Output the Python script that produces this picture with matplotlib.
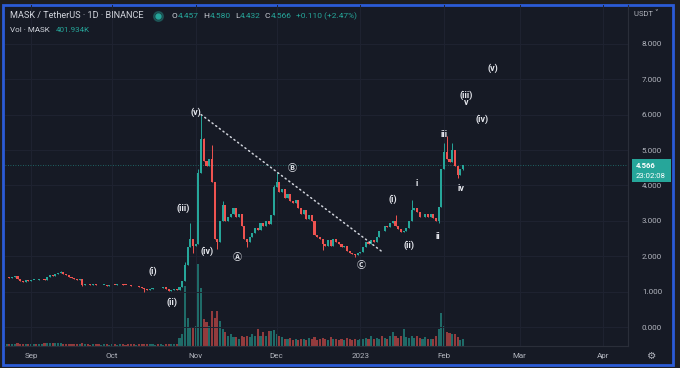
import matplotlib
matplotlib.use("Agg")
import matplotlib.pyplot as plt
from matplotlib.patches import Rectangle
from matplotlib.lines import Line2D

plt.rcParams['font.family'] = ['Roboto', 'DejaVu Sans', 'Noto Sans CJK JP']

# days counted from 1 Sep 2022, first candle is 23 Aug
first_day = -9
first_open = 1.40
closes = [
    1.41, 1.39, 1.42, 1.44, 1.36, 1.30, 1.28, 1.32, 1.30,
    1.33, 1.34, 1.32, 1.35, 1.36, 1.33, 1.40, 1.46, 1.44, 1.50, 1.52, 1.55,
    1.50, 1.46, 1.42, 1.38, 1.36, 1.34, 1.36, 1.20, 1.22,
    1.21, 1.19, 1.22, 1.20, 1.18, 1.19, 1.20, 1.17, 1.18, 1.20,
    1.19, 1.21, 1.22, 1.20, 1.19, 1.18, 1.17, 1.15, 1.16, 1.13,
    1.10, 1.06, 1.04, 1.08, 1.10, 1.11, 1.09, 1.10, 1.12, 1.08,
    1.03, 1.04, 1.06, 1.05, 1.12, 1.30,
    1.75, 2.25, 2.50, 2.30, 2.35, 4.35, 5.30, 4.70, 4.55, 4.75, 4.10, 2.50, 2.40,
    3.00, 3.45, 3.00, 3.10, 3.20, 3.35, 3.10, 3.20, 2.85, 2.50,
    2.40, 2.55, 2.65, 2.80, 2.75, 2.95, 2.85, 3.00, 2.90, 3.15,
    3.95, 4.10, 3.80, 3.90, 3.65, 3.75, 3.55, 3.50, 3.60, 3.35, 3.20, 3.30,
    3.05, 3.15, 3.00, 2.60, 2.55, 2.50, 2.35, 2.30, 2.45, 2.30, 2.50, 2.40,
    2.35, 2.25, 2.30, 2.15, 2.10, 2.05, 2.02, 2.08, 2.12, 2.25,
    2.40, 2.35, 2.45, 2.40, 2.55, 2.72, 2.70, 2.85, 2.82, 2.95,
    3.00, 2.85, 2.78, 2.68, 2.70, 2.80, 3.00, 3.30, 3.35, 3.25,
    3.10, 3.12, 3.18, 3.12, 3.18, 3.08, 3.00,
    3.40, 4.45, 4.95, 4.75, 4.65, 5.00, 4.55, 4.30, 4.457, 4.566,
]
# visible wicks (day: price)
highs = {11: 1.58, 57: 1.85, 59: 2.95, 62: 4.45, 63: 6.00, 64: 5.35, 67: 5.15,
         71: 3.55, 90: 4.00, 91: 4.38, 135: 3.16, 141: 3.59, 153: 5.20,
         154: 5.40, 156: 5.20, 160: 4.58}
lows = {19: 1.15, 42: 1.00, 60: 2.10, 69: 2.20, 80: 2.25, 108: 2.18,
        120: 1.98, 151: 2.93, 158: 4.20, 160: 4.432}
# volume in millions MASK
volumes = [
    0.12, 0.10, 0.11, 0.13, 0.15, 0.12, 0.10, 0.11, 0.09,
    0.10, 0.12, 0.09, 0.11, 0.14, 0.16, 0.18, 0.20, 0.17, 0.15, 0.18, 0.16,
    0.14, 0.12, 0.13, 0.11, 0.10, 0.12, 0.09, 0.15, 0.11,
    0.09, 0.08, 0.10, 0.09, 0.11, 0.08, 0.10, 0.09, 0.08, 0.10,
    0.09, 0.08, 0.11, 0.09, 0.08, 0.10, 0.09, 0.11, 0.08, 0.10,
    0.12, 0.11, 0.09, 0.10, 0.09, 0.08, 0.09, 0.10, 0.08, 0.09,
    0.11, 0.10, 0.09, 0.12, 0.45, 0.70,
    3.45, 1.60, 1.05, 1.10, 1.15, 4.70, 3.35, 1.55, 1.35, 1.15, 2.00, 1.60, 2.00,
    1.45, 0.97, 0.78, 0.60, 0.68, 0.53, 0.50, 0.40, 0.60, 0.53,
    0.60, 0.50, 0.68, 0.57, 0.97, 0.57, 0.78, 0.57, 0.85, 0.85,
    0.90, 0.68, 0.57, 0.50, 0.42, 0.38, 0.45, 0.35, 0.40, 0.33, 0.38, 0.42,
    0.36, 0.45, 0.40, 0.50, 0.35, 0.38, 0.45, 0.40, 0.35, 0.50, 0.42, 0.38,
    0.35, 0.40, 0.33, 0.45, 0.38, 0.36, 0.42, 0.35, 0.40, 0.38,
    0.45, 0.40, 0.55, 0.42, 0.48, 0.38, 0.57, 0.45, 0.40, 0.55,
    0.80, 0.55, 0.45, 0.60, 0.97, 0.50, 0.45, 0.57, 0.48, 0.60,
    0.45, 0.40, 0.50, 0.42, 0.38, 0.40, 0.55,
    1.00, 1.90, 1.15, 0.80, 0.75, 0.70, 0.68, 0.50, 0.35, 0.40,
]
month_days = [0, 30, 61, 91, 122, 153, 181, 212]
month_labels = ["Sep", "Oct", "Nov", "Dec", "2023", "Feb", "Mar", "Apr"]
price_ticks = [0, 1, 2, 3, 4, 5, 6, 7, 8]
trend_days = [63, 130]
trend_prices = [6.00, 2.13]
wave_labels = [
    ("(i)", 45.2, 1.58), ("(ii)", 52.2, 0.71), ("(iii)", 56.3, 3.36),
    ("(iv)", 65.2, 2.15), ("(v)", 61.1, 6.07),
    ("\u24b6", 76.3, 1.95), ("\u24b7", 96.7, 4.49), ("\u24b8", 122.2, 1.75),
    ("(i)", 134.1, 3.62), ("(ii)", 140.0, 2.32), ("i", 143.0, 4.04),
    ("ii", 150.7, 2.57), ("iii", 153.0, 5.45), ("iv", 159.3, 3.90),
    ("(iii)", 161.1, 6.55), ("v", 161.1, 6.33), ("(iv)", 167.0, 5.88),
    ("(v)", 171.1, 7.32),
]
last_price = 4.566

UP = "#26a69a"
DOWN = "#ef5350"
BG = "#161a25"
TXT = "#b2b5be"
HEAD = "#d1d4dc"

W, H = 680, 368
fig = plt.figure(figsize=(6.8, 3.68), dpi=100, facecolor="#1d1e22")

def fx(px):
    return px / W

def fy(py):
    return 1 - py / H

# outer frame with blue border
fig.add_artist(Rectangle((fx(2.5), fy(364.5)), fx(670.5), (362 - 2.5) / H,
                         transform=fig.transFigure, facecolor=BG,
                         edgecolor="#2b5bd6", lw=2, zorder=0))

ax = fig.add_axes([fx(5), fy(346), fx(623), 341 / H])
vax = ax.twinx()
ax.set_zorder(vax.get_zorder() + 1)
ax.patch.set_visible(False)

days = list(range(first_day, first_day + len(closes)))
opens = [first_open] + closes[:-1]
colors = [UP if c >= o else DOWN for o, c in zip(opens, closes)]

# volume
vax.bar(days, volumes, width=0.75, color=colors, alpha=0.58, lw=0)
vax.set_ylim(0, 19.55)
vax.axis("off")

# candles
bottoms = [min(o, c) for o, c in zip(opens, closes)]
heights = [max(abs(c - o), 0.015) for o, c in zip(opens, closes)]
his = [highs.get(d, max(o, c)) for d, o, c in zip(days, opens, closes)]
los = [lows.get(d, min(o, c)) for d, o, c in zip(days, opens, closes)]
ax.vlines(days, los, his, colors=colors, lw=0.7, zorder=3)
ax.bar(days, heights, bottom=bottoms, width=0.75, color=colors, lw=0, zorder=4)

# last price line
ax.axhline(last_price, color=UP, lw=0.6, ls=(0, (1, 2)), alpha=0.7, zorder=2)

# trend line
ax.plot(trend_days, trend_prices, color="#d1d4dc", lw=1.1,
        ls=(0, (0.8, 2.2)), dash_capstyle="round", zorder=5)

for txt, d, p in wave_labels:
    ax.text(d, p, txt, color="#e6e8ee", fontsize=6.5, fontweight="bold",
            ha="center", va="center", zorder=6,
            family=["Roboto", "DejaVu Sans", "Noto Sans CJK JP"])

ax.set_xlim((5 - 31) / 2.7, (628 - 31) / 2.7)
ax.set_ylim((327 - 346) / 35.4, (327 - 5) / 35.4)
ax.set_xticks(month_days)
ax.set_xticklabels(month_labels)
ax.set_yticks(price_ticks)
ax.set_yticklabels(["%.3f" % v for v in price_ticks])
ax.yaxis.tick_right()
ax.tick_params(axis="y", length=0, pad=10, labelsize=5.8, labelcolor=TXT)
ax.tick_params(axis="x", length=0, pad=5, labelsize=5.8, labelcolor=TXT)
ax.grid(color="#1f2331", lw=0.7)
for s in ["top", "left"]:
    ax.spines[s].set_visible(False)
for s in ["bottom", "right"]:
    ax.spines[s].set_color("#2a2e39")
    ax.spines[s].set_linewidth(0.8)

# header
fig.text(fx(10), fy(16), "MASK / TetherUS \u00b7 1D \u00b7 BINANCE",
         fontsize=6.6, color=HEAD, va="center")
fig.add_artist(Line2D([fx(158)], [fy(16)], marker="o", ms=7, color=UP,
                      alpha=0.3, transform=fig.transFigure))
fig.add_artist(Line2D([fx(158)], [fy(16)], marker="o", ms=3.5, color=UP,
                      transform=fig.transFigure))

renderer = fig.canvas.get_renderer()

def text_row(parts, x0, y, size):
    x = x0
    for txt, c, gap in parts:
        t = fig.text(fx(x), fy(y), txt, fontsize=size, color=c, va="center")
        x += t.get_window_extent(renderer).width + gap

text_row([("O", HEAD, 0.5), ("4.457", UP, 4), ("H", HEAD, 0.5), ("4.580", UP, 4),
          ("L", HEAD, 0.5), ("4.432", UP, 4), ("C", HEAD, 0.5), ("4.566", UP, 4),
          ("+0.110 (+2.47%)", UP, 0)], 172, 16, 6.0)
text_row([("Vol \u00b7 MASK", HEAD, 6), ("401.934K", UP, 0)], 10, 30, 5.8)

fig.text(fx(646), fy(14), "USDT \u02c5", fontsize=5.5, color=TXT,
         va="center", ha="center", family=["Roboto", "DejaVu Sans"])
fig.text(fx(652), fy(356), "\u2699", fontsize=7.5, color=TXT,
         va="center", ha="center", family=["DejaVu Sans"])

# last price tag
fig.add_artist(Rectangle((fx(632), fy(182)), fx(39), 23 / H,
                         transform=fig.transFigure, facecolor=UP, lw=0))
fig.text(fx(636), fy(165.5), "%.3f" % last_price, fontsize=5.6,
         fontweight="bold", color="white", va="center")
fig.text(fx(636), fy(175.5), "23:02:08", fontsize=5.6, color="white", va="center")

fig.savefig("out.png", dpi=100, facecolor=fig.get_facecolor())
